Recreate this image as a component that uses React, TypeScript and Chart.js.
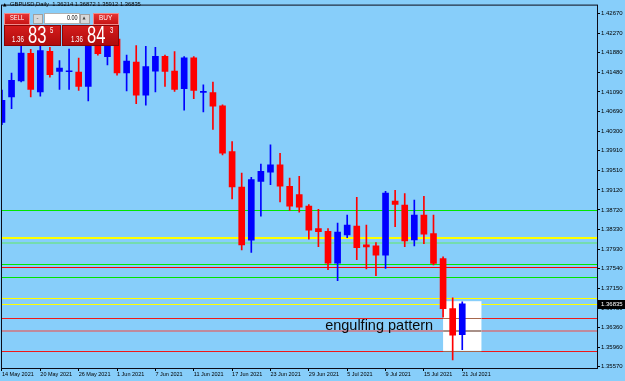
import React, { useEffect, useRef } from 'react';
import { Chart, registerables } from 'chart.js';

Chart.register(...registerables);

// ---------- DATA ----------
const categories = [
  '14 May', '17 May', '18 May', '19 May', '20 May', '21 May', '24 May', '25 May', '26 May', '27 May', '28 May', '31 May',
  '1 Jun', '2 Jun', '3 Jun', '4 Jun', '7 Jun', '8 Jun', '9 Jun', '10 Jun', '11 Jun', '14 Jun', '15 Jun', '16 Jun',
  '17 Jun', '18 Jun', '21 Jun', '22 Jun', '23 Jun', '24 Jun', '25 Jun', '28 Jun', '29 Jun', '30 Jun',
  '1 Jul', '2 Jul', '5 Jul', '6 Jul', '7 Jul', '8 Jul', '9 Jul', '12 Jul', '13 Jul', '14 Jul', '15 Jul', '16 Jul',
  '19 Jul', '20 Jul', '21 Jul',
];

const opens = [
  1.40476, 1.40989, 1.41308, 1.41866, 1.41088, 1.41906, 1.41501, 1.41495, 1.41487, 1.41202, 1.42006, 1.41800,
  1.42150, 1.41473, 1.41687, 1.41023, 1.41507, 1.41806, 1.41507, 1.41154, 1.41773, 1.41080, 1.41074, 1.40809,
  1.39892, 1.39180, 1.38111, 1.39294, 1.39479, 1.39627, 1.39194, 1.39028, 1.38795, 1.38342,
  1.38290, 1.37652, 1.38216, 1.38396, 1.38017, 1.37997, 1.37812, 1.38895, 1.38815, 1.38117, 1.38615, 1.38242,
  1.37744, 1.36735, 1.36214,
];
const highs = [
  1.41128, 1.41467, 1.42006, 1.41946, 1.42010, 1.41986, 1.41721, 1.41952, 1.41767, 1.42086, 1.42150, 1.42250,
  1.42480, 1.41832, 1.42020, 1.42006, 1.41986, 1.41832, 1.41900, 1.41800, 1.41800, 1.41234, 1.41288, 1.40830,
  1.40091, 1.39459, 1.39373, 1.39639, 1.40025, 1.39858, 1.39359, 1.39393, 1.38829, 1.38729,
  1.38342, 1.38456, 1.38615, 1.38974, 1.38416, 1.38063, 1.39094, 1.39114, 1.39048, 1.38915, 1.38994, 1.38615,
  1.37778, 1.36954, 1.36872,
];
const lows = [
  1.40430, 1.40755, 1.41288, 1.40989, 1.41003, 1.41388, 1.41142, 1.41142, 1.41122, 1.40909, 1.41826, 1.41633,
  1.41428, 1.41108, 1.40855, 1.40823, 1.41088, 1.41202, 1.41102, 1.40724, 1.40955, 1.40690, 1.40337, 1.39826,
  1.38941, 1.37917, 1.37864, 1.38595, 1.39228, 1.38881, 1.38709, 1.38675, 1.38131, 1.37983,
  1.37518, 1.37299, 1.38163, 1.37718, 1.37532, 1.37399, 1.37544, 1.38382, 1.37983, 1.37997, 1.38043, 1.37612,
  1.36567, 1.35704, 1.35912,
];
const closes = [
  1.40923, 1.41322, 1.41872, 1.41142, 1.41920, 1.41434, 1.41567, 1.41510, 1.41202, 1.42006, 1.41860, 1.42150,
  1.41473, 1.41707, 1.41023, 1.41601, 1.41806, 1.41501, 1.41142, 1.41773, 1.41122, 1.41095, 1.40803, 1.39858,
  1.39180, 1.38017, 1.39327, 1.39493, 1.39627, 1.39194, 1.38795, 1.38775, 1.38310, 1.38282,
  1.37652, 1.38276, 1.38416, 1.37963, 1.37977, 1.37812, 1.39060, 1.38829, 1.38097, 1.38615, 1.38230, 1.37644,
  1.36735, 1.36202, 1.36835,
];

const xTickBars = [0, 4, 8, 12, 16, 20, 24, 28, 32, 36, 40, 44, 48];
const xTickLabels = [
  '14 May 2021', '20 May 2021', '26 May 2021', '1 Jun 2021', '7 Jun 2021', '11 Jun 2021', '17 Jun 2021',
  '23 Jun 2021', '29 Jun 2021', '5 Jul 2021', '9 Jul 2021', '15 Jul 2021', '21 Jul 2021',
];
const yTickValues = [
  1.35570, 1.35960, 1.36360, 1.36750, 1.37150, 1.37540, 1.37930, 1.38330, 1.38720, 1.39120,
  1.39510, 1.39910, 1.40300, 1.40690, 1.41090, 1.41480, 1.41880, 1.42270, 1.42670,
];

const levelPrices = [1.38725, 1.38151, 1.38051, 1.37632, 1.37578, 1.37379, 1.36954, 1.36834, 1.36555, 1.36288, 1.35883];
const levelColors = ['#00e600', '#ffff00', '#74dcae', '#00e600', '#ff0000', '#00e600', '#ffff00', '#ffff00', '#f01818', '#bf8a9c', '#f01818'];
const levelWidths = [1, 2, 2, 1, 1, 1, 1, 1, 1, 2, 1];

const rectBars = [46, 50];
const rectPrices = [1.36886, 1.35889];
const noteText = 'engulfing pattern';
const noteBar = 33.7;
const notePrice = 1.36300;
const currentPrice = 1.36835;

const symbolTitle = 'GBPUSD,Daily  1.36214 1.36872 1.35912 1.36835';

const BG = '#87cefa';
const UP = '#0000ff';
const DOWN = '#ff0000';

const overlayPlugin = {
  id: 'mtOverlay',
  beforeDraw(chart: any) {
    const ctx = chart.ctx;
    ctx.save();
    ctx.fillStyle = BG;
    ctx.fillRect(0, 0, chart.width, chart.height);
    ctx.restore();
  },
  beforeDatasetsDraw(chart: any) {
    const { ctx, chartArea: a } = chart;
    const xs = chart.scales.x;
    const ys = chart.scales.y;
    ctx.save();
    ctx.beginPath();
    ctx.rect(a.left, a.top, a.right - a.left, a.bottom - a.top);
    ctx.clip();
    levelPrices.forEach((p, i) => {
      const y = ys.getPixelForValue(p);
      const w = levelWidths[i];
      const yy = w % 2 === 1 ? Math.round(y) + 0.5 : Math.round(y);
      ctx.strokeStyle = levelColors[i];
      ctx.lineWidth = w;
      ctx.beginPath();
      ctx.moveTo(a.left, yy);
      ctx.lineTo(a.right, yy);
      ctx.stroke();
    });
    const rx0 = xs.getPixelForValue(rectBars[0]);
    const rx1 = xs.getPixelForValue(rectBars[1]);
    const ry0 = ys.getPixelForValue(rectPrices[0]);
    const ry1 = ys.getPixelForValue(rectPrices[1]);
    ctx.fillStyle = '#ffffff';
    ctx.fillRect(rx0, ry0, rx1 - rx0, ry1 - ry0);
    levelPrices.forEach((p, i) => {
      const y = ys.getPixelForValue(p);
      if (y < ry0 || y > ry1 + 1) return;
      if (levelColors[i] === '#ffff00') return;
      const w = levelWidths[i];
      const yy = w % 2 === 1 ? Math.round(y) + 0.5 : Math.round(y);
      ctx.strokeStyle = levelColors[i] === '#bf8a9c' ? '#a89088' : '#a8664c';
      ctx.lineWidth = w;
      ctx.beginPath();
      ctx.moveTo(rx0, yy);
      ctx.lineTo(rx1, yy);
      ctx.stroke();
    });
    ctx.restore();
  },
  afterDatasetsDraw(chart: any) {
    const { ctx, chartArea: a } = chart;
    const xs = chart.scales.x;
    const ys = chart.scales.y;
    ctx.save();
    ctx.fillStyle = '#0a0a0a';
    ctx.font = '14.5px "Liberation Sans", Arial, sans-serif';
    ctx.textBaseline = 'alphabetic';
    ctx.textAlign = 'left';
    ctx.fillText(noteText, xs.getPixelForValue(noteBar), ys.getPixelForValue(notePrice));
    ctx.strokeStyle = '#0b0b18';
    ctx.lineWidth = 1;
    ctx.strokeRect(a.left + 0.5, a.top + 0.5, a.right - a.left, a.bottom - a.top);
    const py = ys.getPixelForValue(currentPrice);
    ctx.fillStyle = '#000000';
    ctx.fillRect(a.right + 1, Math.round(py) - 4, chart.width - a.right - 1, 9);
    ctx.fillStyle = '#ffffff';
    ctx.font = '6px "Liberation Sans", Arial, sans-serif';
    ctx.textBaseline = 'middle';
    ctx.fillText(currentPrice.toFixed(5), a.right + 4, Math.round(py) + 0.5);
    ctx.restore();
  },
};

function PanelText(props: any) {
  const { x, capTop, size, sx, text, color } = props;
  return (
    <span
      style={{
        position: 'absolute',
        left: x,
        top: capTop - 0.13 * size,
        fontSize: size,
        lineHeight: 1,
        fontFamily: '"Liberation Sans", Arial, sans-serif',
        color: color || '#ffffff',
        whiteSpace: 'pre',
        transform: `scaleX(${sx})`,
        transformOrigin: 'left top',
      }}
    >
      {text}
    </span>
  );
}

export default function App() {
  const ref = useRef<HTMLCanvasElement | null>(null);

  useEffect(() => {
    if (!ref.current) return;
    const colors = closes.map((c, i) => (c >= opens[i] ? UP : DOWN));
    const chart = new Chart(ref.current, {
      type: 'bar',
      data: {
        datasets: [
          {
            label: 'wicks',
            data: categories.map((_, i) => ({ x: i, y: [lows[i], highs[i]] })),
            backgroundColor: colors,
            borderWidth: 0,
            barThickness: 1,
            grouped: false,
            order: 2,
          } as any,
          {
            label: 'bodies',
            data: categories.map((_, i) => ({ x: i, y: [opens[i], closes[i]] })),
            backgroundColor: colors,
            borderWidth: 0,
            barThickness: 6,
            minBarLength: 1,
            grouped: false,
            order: 1,
          } as any,
        ],
      },
      options: {
        animation: false,
        responsive: false,
        devicePixelRatio: 1,
        layout: { padding: { top: 2, left: 1, right: 0, bottom: 0 } },
        plugins: { legend: { display: false }, tooltip: { enabled: false } },
        events: [],
        scales: {
          x: {
            type: 'linear',
            min: -0.1,
            max: 62.05,
            offset: false,
            afterBuildTicks: (axis: any) => {
              axis.ticks = xTickBars.map((v) => ({ value: v }));
            },
            afterFit: (axis: any) => {
              axis.height = 13;
            },
            ticks: {
              autoSkip: false,
              maxRotation: 0,
              align: 'start',
              padding: 0,
              color: '#000000',
              font: { family: '"Liberation Sans", Arial, sans-serif', size: 5.5 },
              callback: (value: any) => {
                const k = xTickBars.indexOf(Number(value));
                return k >= 0 ? xTickLabels[k] : '';
              },
            },
            grid: { display: true, drawOnChartArea: false, drawTicks: true, tickLength: 3, color: '#000000', offset: false },
            border: { display: false },
          },
          y: {
            type: 'linear',
            position: 'right',
            min: 1.355439,
            max: 1.428435,
            afterBuildTicks: (axis: any) => {
              axis.ticks = yTickValues.map((v) => ({ value: v }));
            },
            afterFit: (axis: any) => {
              axis.width = 28;
            },
            ticks: {
              autoSkip: false,
              padding: 1,
              color: '#000000',
              font: { family: '"Liberation Sans", Arial, sans-serif', size: 6 },
              callback: (value: any) => Number(value).toFixed(5),
            },
            grid: { display: true, drawOnChartArea: false, drawTicks: true, tickLength: 3, color: '#000000' },
            border: { display: false },
          },
        },
      } as any,
      plugins: [overlayPlugin],
    });
    return () => chart.destroy();
  }, []);

  const btnBase: any = {
    position: 'absolute',
    boxSizing: 'border-box',
  };

  return (
    <div style={{ position: 'fixed', left: 0, top: 0, width: 625, height: 381, overflow: 'hidden', background: BG }}>
      <canvas ref={ref} width={625} height={381} style={{ display: 'block', width: 625, height: 381 }} />
      <span style={{ position: 'absolute', left: 3, top: 2.5, fontSize: 4.5, lineHeight: 1, fontFamily: '"DejaVu Sans", sans-serif', color: '#000' }}>▲</span>
      <PanelText x={10} capTop={3.2} size={5.8} sx={1} text={symbolTitle} color="#000000" />
      <div style={{ ...btnBase, left: 4, top: 12.7, width: 26, height: 12, background: 'linear-gradient(#e63434, #c81414)', border: '1px solid #f28a8a' }} />
      <PanelText x={10} capTop={15} size={8} sx={0.72} text="SELL" />
      <div style={{ ...btnBase, left: 33, top: 13.5, width: 10, height: 10, background: '#d8d8d8', border: '1px solid #a0a0a0' }} />
      <PanelText x={36.5} capTop={15.5} size={6} sx={1} text="-" color="#333" />
      <div style={{ ...btnBase, left: 44, top: 12.7, width: 36, height: 11, background: '#ffffff', border: '1px solid #b0b0b0' }} />
      <PanelText x={66.5} capTop={15.3} size={7} sx={0.78} text="0.00" color="#000" />
      <div style={{ ...btnBase, left: 80, top: 13.5, width: 10, height: 10, background: '#d8d8d8', border: '1px solid #a0a0a0' }} />
      <span style={{ position: 'absolute', left: 82.5, top: 15.5, fontSize: 4, lineHeight: 1, fontFamily: '"DejaVu Sans", sans-serif', color: '#444' }}>▲</span>
      <div style={{ ...btnBase, left: 92.5, top: 12.7, width: 26, height: 12, background: 'linear-gradient(#e63434, #c81414)', border: '1px solid #f28a8a' }} />
      <PanelText x={98.5} capTop={15} size={8} sx={0.81} text="BUY" />
      <div style={{ ...btnBase, left: 4, top: 25, width: 57, height: 21, background: 'linear-gradient(#d41c1c, #b00c0c)', border: '1px solid #8a0606' }} />
      <PanelText x={12.3} capTop={36.2} size={9} sx={0.68} text="1.36" />
      <PanelText x={28.3} capTop={26.8} size={23} sx={0.72} text="83" />
      <PanelText x={50} capTop={26.8} size={9.2} sx={0.65} text="5" />
      <div style={{ ...btnBase, left: 62, top: 25, width: 56.5, height: 21, background: 'linear-gradient(#d41c1c, #b00c0c)', border: '1px solid #8a0606' }} />
      <PanelText x={70.7} capTop={36.2} size={9} sx={0.68} text="1.36" />
      <PanelText x={86.5} capTop={26.8} size={23} sx={0.72} text="84" />
      <PanelText x={110} capTop={26.8} size={9.2} sx={0.65} text="3" />
    </div>
  );
}
